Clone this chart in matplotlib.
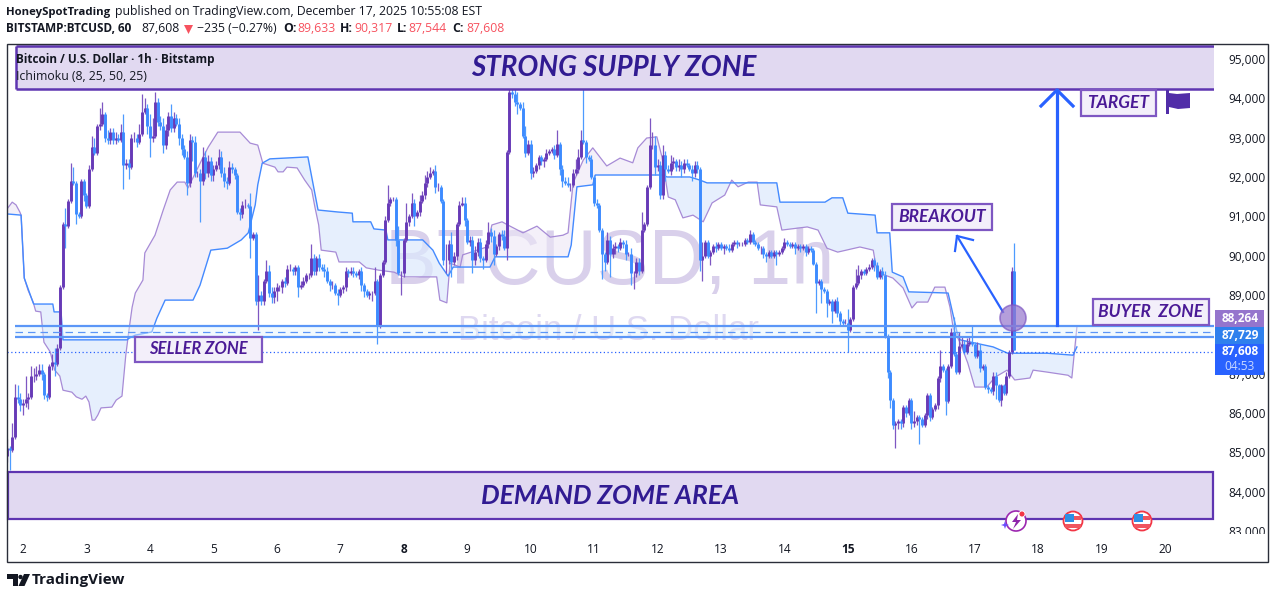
import numpy as np
import matplotlib
matplotlib.use("Agg")
import matplotlib.pyplot as plt
from matplotlib.patches import Circle, Polygon, Rectangle
from matplotlib.transforms import Affine2D

W, H = 1275, 599

# hourly candles, thousands of USD, first candle is Dec 1 18:00
closes = [
    85.10, 85.05, 85.40, 86.40, 86.35, 86.20,
    86.25, 86.35, 86.40, 86.95, 86.95, 87.00, 87.10, 87.00, 86.45, 86.40, 87.20, 87.30, 87.25, 87.65, 89.20, 90.80, 90.75, 91.40, 91.90, 91.85, 91.05, 91.00, 91.90, 91.55,
    91.25, 92.20, 92.75, 92.60, 93.30, 93.35, 93.60, 93.00, 92.95, 93.15, 92.95, 93.00, 92.95, 93.15, 92.30, 92.35, 92.25, 93.00, 93.00, 92.90, 93.10, 93.65, 93.75, 93.30,
    93.00, 93.05, 93.90, 93.40, 93.30, 92.80, 93.20, 93.55, 93.25, 93.50, 93.35, 93.00, 92.70, 92.50, 91.85, 92.95, 92.90, 92.10, 92.10, 91.90, 92.50, 92.10, 92.40, 92.05,
    92.20, 92.30, 92.50, 92.10, 91.90, 91.85, 92.25, 92.20, 92.05, 91.10, 91.05, 91.30, 91.30, 91.25, 90.45, 90.55, 88.85, 89.00, 88.85, 89.35, 89.60, 89.05, 88.95, 89.10,
    89.20, 89.20, 89.35, 89.30, 89.65, 89.65, 89.60, 89.70, 89.20, 89.25, 89.35, 89.50, 89.50, 89.95, 89.60, 89.95, 89.70, 89.65, 89.60, 89.35, 89.25, 89.25, 89.05, 89.00,
    89.15, 89.20, 89.60, 89.55, 89.60, 89.55, 89.50, 89.60, 89.25, 89.10, 89.00, 89.05, 89.05, 89.35, 88.20, 89.50, 89.85, 90.90, 91.35, 91.45, 91.45, 90.40, 89.55, 89.55,
    90.40, 90.85, 91.00, 91.35, 91.00, 91.10, 91.40, 91.55, 91.85, 92.00, 92.10, 92.15, 91.75, 91.75, 91.40, 89.90, 89.90, 90.30, 89.85, 90.00, 90.80, 91.30, 91.35, 90.90,
    90.35, 90.40, 89.90, 90.10, 90.35, 89.95, 89.90, 90.30, 90.60, 90.50, 90.05, 90.25, 90.55, 90.50, 90.20, 92.63, 94.15, 94.10, 93.90, 93.85, 93.75, 93.05, 92.60, 92.85,
    92.10, 92.15, 92.30, 92.50, 92.40, 92.45, 92.60, 92.65, 92.70, 92.55, 92.85, 92.20, 91.90, 91.85, 91.80, 91.80, 92.10, 92.20, 92.50, 92.95, 92.90, 92.50, 92.45, 92.00,
    91.35, 91.30, 90.65, 90.05, 89.85, 90.40, 90.05, 90.20, 90.25, 90.20, 90.35, 90.30, 90.05, 90.05, 89.55, 89.55, 89.85, 89.60, 90.65, 90.80, 91.75, 92.80, 92.80, 92.25,
    92.30, 91.55, 92.55, 92.20, 92.15, 92.35, 92.40, 92.25, 92.30, 92.20, 92.35, 92.30, 92.20, 92.10, 92.30, 92.20, 89.90, 90.00, 90.35, 90.00, 90.10, 90.25, 90.20, 90.30,
    90.20, 90.25, 90.20, 90.15, 90.30, 90.35, 90.30, 90.30, 90.30, 90.40, 90.35, 90.55, 90.35, 90.30, 90.20, 90.20, 90.05, 90.00, 90.10, 90.00, 90.10, 90.05, 90.10, 90.20,
    90.35, 90.30, 90.25, 90.30, 90.20, 90.25, 90.20, 90.25, 90.10, 90.20, 90.15, 89.80, 89.30, 89.35, 89.15, 89.10, 88.80, 88.85, 88.60, 88.85, 88.55, 88.35, 88.30, 88.30,
    88.10, 88.40, 89.20, 89.30, 89.50, 89.60, 89.55, 89.65, 89.70, 89.90, 89.75, 89.45, 89.60, 89.50, 87.95, 87.05, 86.33, 85.70, 85.75, 85.80, 85.75, 86.15, 86.00, 86.33,
    85.75, 85.80, 85.90, 85.85, 85.70, 85.95, 86.45, 85.90, 86.10, 86.20, 86.90, 87.20, 87.10, 86.30, 87.20, 88.05, 87.50, 87.05, 87.70, 87.75, 87.55, 87.75, 87.80, 87.75,
    87.45, 87.60, 87.15, 87.20, 86.65, 86.60, 86.55, 86.95, 86.70, 86.33, 86.70, 86.50, 86.95, 87.55, 89.60, 87.61,
]
up_wicks = [
    .25, .05, .35, .35, .30, .15,
    .10, .60, .10, .25, .20, .20, .15, .15, .05, .05, .05, .20, .35, .10, .05, .05, .40, .05, .45, .35, .05, .05, .05, .05,
    .05, .10, .30, .25, .05, .40, .30, .05, .20, .10, .10, .15, .10, .20, .45, .10, .10, .10, .15, .10, .25, .45, .25, .10,
    .30, .45, .25, .10, .15, .20, .15, .10, .30, .15, .10, .15, .10, .10, .15, .15, .10, .15, .05, .10, .25, .15, .15, .10,
    .10, .10, .20, .15, .15, .10, .15, .10, .05, .05, .10, .10, .15, .05, .35, .05, .05, .50, .10, .05, .30, .15, .15, .10,
    .10, .05, .05, .10, .10, .15, .05, .05, .05, .10, .10, .05, .05, .35, .10, .05, .10, .10, .15, .10, .05, .10, .05, .10,
    .05, .05, .10, .05, .10, .10, .05, .05, .10, .05, .05, .05, .05, .35, .05, .05, .05, .10, .45, .05, .05, .05, .35, .05,
    .05, .50, .05, .25, .10, .05, .15, .10, .20, .15, .15, .05, .15, .10, .05, .05, .40, .10, .30, .10, .05, .10, .15, .15,
    .05, .10, .10, .15, .10, .10, .05, .10, .25, .10, .15, .05, .05, .10, .15, .05, .35, .25, .15, .25, .05, .15, .25, .10,
    .10, .10, .05, .05, .05, .05, .10, .05, .05, .10, .35, .05, .10, .10, .15, .05, .10, .25, .20, .25, 1.50, .05, .05, .10,
    .05, .10, .05, .05, .05, .20, .10, .10, .10, .05, .10, .05, .10, .05, .15, .05, .10, .10, .45, .05, .05, .70, .35, .25,
    .15, .10, .25, .10, .10, .20, .10, .05, .15, .10, .10, .10, .05, .10, .10, .10, .05, .35, .05, .05, .05, .05, .10, .05,
    .05, .05, .05, .10, .05, .05, .05, .05, .05, .05, .05, .10, .05, .05, .05, .05, .05, .05, .05, .05, .05, .05, .05, .05,
    .10, .05, .05, .05, .05, .05, .05, .05, .05, .05, .05, .05, .05, .05, .05, .05, .05, .05, .05, .05, .10, .05, .05, .10,
    .35, .05, .05, .35, .25, .05, .05, .05, .10, .05, .05, .10, .05, .10, .10, .05, .05, .05, .05, .05, .05, .05, .05, .05,
    .05, .25, .05, .05, .05, .05, .05, .05, .05, .05, .05, .40, .05, .05, .05, .10, .40, .05, .35, .20, .10, .15, .15, .40,
    .05, .20, .15, .05, .05, .05, .05, .10, .10, .05, .05, .05, .10, .05, .10, .72,
]
down_wicks = [
    .15, .50, .05, .05, .10, .15,
    .25, .10, .25, .05, .15, .10, .05, .15, .10, .10, .05, .10, .30, .05, .05, .05, .55, .05, .05, .05, .25, .05, .05, .15,
    .05, .05, .05, .05, .05, .10, .05, .10, .10, .10, .10, .10, .05, .05, .60, .10, .30, .05, .10, .15, .05, .05, .05, .20,
    .50, .10, .05, .10, .10, .20, .10, .15, .10, .10, .05, .20, .15, .05, .30, .10, .50, .10, .10, 1.05, .10, .15, .10, .15,
    .15, .05, .10, .10, .15, .15, .05, .10, .10, .05, .15, .10, .10, .05, .50, .05, .10, .75, .10, .10, .05, .10, .15, .15,
    .25, .10, .15, .10, .05, .05, .10, .10, .25, .05, .05, .05, .10, .05, .10, .10, .10, .05, .15, .05, .15, .10, .05, .25,
    .05, .10, .10, .10, .05, .10, .05, .10, .15, .15, .05, .10, .20, .05, .45, .05, .05, .05, .05, .10, .05, .15, .05, .55,
    .10, .05, .10, .05, .25, .05, .10, .05, .10, .10, .05, .05, .15, .10, .05, .15, .35, .10, .40, .10, .10, .05, .05, .15,
    .05, .10, .35, .15, .10, .10, .25, .05, .10, .15, .30, .05, .10, .10, .05, .30, .05, .10, .10, .25, .05, .05, .10, .05,
    .15, .10, .05, .10, .10, .15, .05, .05, .05, .10, .05, .15, .15, .05, .05, .15, .05, .05, .10, .05, .05, .15, .05, .05,
    .10, .10, .05, .65, .25, .05, .60, .10, .15, .10, .05, .10, .15, .05, .30, .40, .10, .10, .05, .05, .05, .05, .10, .20,
    .10, .10, .10, .30, .05, .10, .15, .10, .10, .20, .10, .05, .05, .20, .10, .10, .30, .55, .05, .05, .25, .05, .10, .05,
    .05, .15, .05, .05, .05, .05, .10, .05, .05, .05, .05, .05, .05, .05, .05, .15, .10, .15, .05, .05, .05, .30, .05, .05,
    .05, .05, .05, .05, .15, .05, .10, .05, .10, .05, .05, .05, .75, .05, .35, .05, .35, .05, .30, .05, .10, .15, .10, .05,
    .55, .05, .05, .05, .05, .10, .05, .05, .05, .05, .15, .05, .05, .10, .05, .15, .20, .10, .60, .15, .15, .10, .10, .05,
    .15, .10, .10, .65, .05, .05, .10, .10, .05, .05, .10, .10, .05, .35, .05, .05, .05, .05, .05, .05, .05, .05, .05, .05,
    .05, .05, .10, .05, .05, .10, .05, .10, .35, .05, .15, .05, .05, .05, .05, .00,
]

# ichimoku spans: x is the day of December, y thousands of USD
span_b_x = [1.75, 1.97, 2.02, 2.16, 2.17, 2.47, 2.49, 2.60, 2.63, 3.64, 3.67, 3.77, 4.03, 4.11, 4.24, 4.68, 4.79, 4.96, 5.22, 5.44, 5.55, 5.66, 5.70, 5.77, 5.89, 6.49, 6.65, 6.96, 7.19, 7.20, 7.48, 7.53, 7.72, 7.75, 8.30, 8.46, 8.56, 8.70, 8.78, 9.36, 9.44, 10.59, 10.64, 10.73, 10.98, 11.02, 12.09, 12.15, 12.51, 12.67, 12.78, 13.88, 13.93, 14.64, 14.75, 14.92, 15.00, 15.43, 15.46, 15.66, 15.70, 15.87, 15.96, 16.58, 16.72, 16.77, 17.00, 17.29, 17.52, 18.14, 18.55, 18.61]
span_b_y = [91.06, 91.03, 89.43, 88.80, 88.77, 88.77, 88.57, 88.57, 87.86, 87.86, 87.90, 87.98, 88.06, 88.41, 88.87, 88.87, 89.25, 90.14, 90.19, 90.40, 90.58, 91.29, 91.80, 92.35, 92.46, 92.51, 91.16, 91.11, 91.08, 90.86, 90.86, 90.68, 90.65, 90.40, 90.40, 90.14, 89.81, 89.48, 89.71, 89.71, 89.97, 89.97, 90.27, 91.75, 91.80, 92.05, 92.05, 92.00, 92.00, 91.92, 91.85, 91.85, 91.36, 91.36, 91.47, 91.47, 91.08, 91.03, 90.58, 90.58, 89.58, 89.46, 89.08, 89.05, 88.06, 87.86, 87.78, 87.68, 87.52, 87.52, 87.47, 87.68]
span_a_x = [1.75, 1.83, 1.89, 1.95, 1.97, 2.02, 2.08, 2.16, 2.20, 2.28, 2.33, 2.43, 2.50, 2.58, 2.63, 2.77, 2.84, 2.93, 2.99, 3.04, 3.09, 3.13, 3.18, 3.23, 3.40, 3.47, 3.56, 3.62, 3.67, 3.72, 3.77, 3.89, 3.92, 4.08, 4.21, 4.32, 4.43, 4.55, 4.60, 4.84, 4.92, 5.07, 5.42, 5.58, 5.70, 5.78, 5.97, 6.02, 6.10, 6.16, 6.32, 6.44, 6.55, 6.60, 6.66, 6.70, 6.93, 6.98, 7.30, 7.41, 7.61, 7.85, 8.00, 8.30, 8.52, 8.57, 8.68, 8.73, 8.89, 8.93, 9.31, 9.39, 9.55, 9.64, 9.88, 10.10, 10.31, 10.51, 10.59, 10.67, 10.83, 10.98, 11.20, 11.41, 11.61, 11.69, 11.83, 11.99, 12.07, 12.17, 12.28, 12.40, 12.56, 12.72, 12.86, 13.06, 13.17, 13.27, 13.43, 13.57, 13.62, 13.88, 13.96, 14.36, 14.53, 14.67, 14.84, 15.19, 15.40, 15.46, 15.71, 15.87, 16.01, 16.09, 16.26, 16.37, 16.53, 16.61, 16.66, 16.77, 16.89, 17.00, 17.19, 17.32, 17.51, 17.63, 17.87, 17.92, 18.14, 18.47, 18.53, 18.61]
span_a_y = [91.19, 91.36, 91.29, 91.11, 91.03, 89.43, 89.12, 88.82, 88.59, 88.57, 87.80, 87.55, 87.09, 86.94, 86.58, 86.53, 86.41, 86.35, 86.43, 86.28, 85.82, 85.82, 85.95, 86.13, 86.15, 86.33, 86.43, 87.47, 88.11, 88.69, 89.05, 89.38, 90.07, 90.52, 91.16, 91.67, 91.87, 91.87, 91.72, 92.51, 92.76, 93.14, 93.14, 92.86, 92.81, 92.35, 92.25, 92.13, 92.13, 92.25, 92.23, 91.92, 91.67, 91.24, 90.78, 90.14, 90.09, 89.84, 89.84, 89.69, 89.63, 89.58, 89.46, 89.46, 89.46, 88.87, 88.80, 89.81, 89.71, 90.02, 90.22, 90.78, 90.86, 90.78, 90.58, 90.75, 90.47, 90.52, 90.58, 91.85, 92.43, 92.74, 92.28, 92.48, 92.36, 92.74, 92.99, 93.02, 92.51, 91.49, 91.42, 90.96, 91.03, 90.86, 91.34, 91.54, 91.92, 91.75, 91.87, 91.87, 91.29, 91.24, 90.65, 90.73, 90.65, 90.19, 90.09, 90.22, 90.14, 89.58, 89.43, 89.18, 88.67, 88.82, 88.82, 89.20, 89.20, 88.69, 88.16, 87.78, 87.27, 86.66, 86.66, 86.91, 87.09, 86.84, 86.89, 87.09, 87.04, 86.96, 86.89, 88.19]

price_ticks = [83000, 84000, 85000, 86000, 87000, 89000, 90000, 91000, 92000, 93000, 94000, 95000]
day_ticks = [2, 3, 4, 5, 6, 7, 8, 9, 10, 11, 12, 13, 14, 15, 16, 17, 18, 19, 20]
bold_days = [8, 15]

# horizontal levels
supply_zone = (94240, 95330)
demand_zone = (83300, 84500)
band_top, band_mid, band_bottom = 88210, 88060, 87930
last_line = 87550

PURPLE = "#673AB7"
PURPLE_WICK = "#7E57C2"
BLUE = "#3D8BFF"
BLUE_WICK = "#4D9BFF"
ARROW = "#2962FF"
ZONE_EDGE = "#5E35B1"
ZONE_FILL = "#E1D9F1"
LABEL_INK = "#4A1A96"
INK = "#131722"

plt.rcParams["font.family"] = ["Open Sans", "DejaVu Sans"]
ZONE_FONT = ["Lato", "DejaVu Sans"]

fig = plt.figure(figsize=(W / 100, H / 100), dpi=100)
# chart pane runs 7..1214 px across and 44..533 px down
ax = fig.add_axes([7 / W, 1 - 533 / H, (1214 - 7) / W, (533 - 44) / H])
ax.set_xlim(2 - 16 / 63.45, 2 + (1214 - 23) / 63.45)
ax.set_ylim(82950, 95380)
for s in ax.spines.values():
    s.set_visible(False)

px = Affine2D().scale(1, -1).translate(0, H)


def pixel_rect(x0, y0, x1, y1, **kw):
    fig.add_artist(Rectangle((x0, y0), x1 - x0, y1 - y0, transform=px, **kw))


def pixel_text(x, y, s, **kw):
    kw.setdefault("color", INK)
    kw.setdefault("fontsize", 8.8)
    kw.setdefault("va", "center")
    fig.text(x / W, 1 - y / H, s, **kw)


def boxed_label(x0, y0, x1, y1, s, size):
    pixel_rect(x0, y0, x1, y1, facecolor="#F3EFFA", edgecolor="#7E57C2", lw=1.6, zorder=6)
    pixel_text((x0 + x1) / 2, (y0 + y1) / 2, s, color=LABEL_INK, fontsize=size, ha="center",
               family=ZONE_FONT, style="italic", weight="bold", zorder=7)


# watermark sits behind everything
ax.text(610, 263, "BTCUSD, 1h", transform=px, fontsize=56, color="#D9D0EB", family="Liberation Sans",
        ha="center", va="center", zorder=1)
ax.text(609, 331, "Bitcoin / U.S. Dollar", transform=px, fontsize=25, color="#DFD9F1",
        family="Liberation Sans", ha="center", va="center", zorder=1)

# cloud
grid = np.linspace(1.75, 18.61, 2000)
a_on_grid = np.interp(grid, span_a_x, span_a_y) * 1000
b_on_grid = np.interp(grid, span_b_x, span_b_y) * 1000
ax.fill_between(grid, a_on_grid, b_on_grid, where=a_on_grid >= b_on_grid, color="#EDE7F6", alpha=0.6, lw=0, zorder=2)
ax.fill_between(grid, a_on_grid, b_on_grid, where=a_on_grid < b_on_grid, color="#DCE9FD", alpha=0.7, lw=0, zorder=2)
ax.plot(span_a_x, np.array(span_a_y) * 1000, color="#A78BD6", lw=0.9, zorder=3)
ax.plot(span_b_x, np.array(span_b_y) * 1000, color="#448AFF", lw=1.0, zorder=3)

# candles
c = np.array(closes) * 1000
o = np.r_[84900, c[:-1]]
x = 1.75 + np.arange(len(c)) / 24
top = np.maximum(o, c)
bottom = np.minimum(o, c)
high = top + np.array(up_wicks) * 1000
low = bottom - np.array(down_wicks) * 1000
rising = c >= o
ax.vlines(x[rising], low[rising], high[rising], color=PURPLE_WICK, lw=0.9, zorder=4)
ax.vlines(x[~rising], low[~rising], high[~rising], color=BLUE_WICK, lw=0.9, zorder=4)
ax.vlines(x[rising], bottom[rising], top[rising], color=PURPLE, lw=2.1, zorder=4.5)
ax.vlines(x[~rising], bottom[~rising], top[~rising], color=BLUE, lw=2.1, zorder=4.5)

# buyer band and last price line
band_left = 2 + (15 - 23) / 63.45
band_right = ax.get_xlim()[1]
ax.fill_between([band_left, band_right], band_bottom, band_top, color="#E3F5FD", alpha=0.45, lw=0, zorder=3.5)
ax.hlines([band_top, band_bottom], band_left, band_right, color="#5B96F7", lw=1.6, zorder=5)
ax.hlines(band_mid, band_left, band_right, color="#5B96F7", lw=0.9, linestyles=(0, (6, 4)), zorder=5)
ax.axhline(last_line, color="#2962FF", lw=0.9, linestyle=(0, (1, 2)), zorder=5)

# zones
ax.add_patch(Rectangle((1.89, supply_zone[0]), band_right - 1.89, supply_zone[1] - supply_zone[0],
                       facecolor=ZONE_FILL, edgecolor="none", zorder=5.5))
ax.hlines(supply_zone, 1.89, band_right, color=ZONE_EDGE, lw=1.8, zorder=5.6)
ax.vlines(1.89, *supply_zone, color=ZONE_EDGE, lw=1.8, zorder=5.6)
ax.add_patch(Rectangle((1.76, demand_zone[0]), 20.76 - 1.76, demand_zone[1] - demand_zone[0],
                       facecolor=ZONE_FILL, edgecolor=ZONE_EDGE, lw=1.6, zorder=5.5, clip_on=False))

ax.yaxis.tick_right()
ax.set_yticks(price_ticks)
ax.set_yticklabels([f"{v:,}" for v in price_ticks])
ax.set_xticks(day_ticks)
ax.set_xticklabels([str(d) for d in day_ticks])
ax.tick_params(axis="y", length=0, pad=10, labelsize=8.6, labelcolor=INK)
ax.tick_params(axis="x", length=0, pad=7, labelsize=8.6, labelcolor=INK)
for lab, d in zip(ax.get_xticklabels(), day_ticks):
    if d in bold_days:
        lab.set_fontweight("bold")

# frame, and the strip that cuts the lowest price label
pixel_rect(6.5, 44, 1268, 562, facecolor="none", edgecolor="#2A2E39", lw=1.0, zorder=3)
pixel_rect(1216, 533.5, 1266, 541, facecolor="white", edgecolor="none", zorder=2)

# header
pixel_text(6, 12, "HoneySpotTrading", weight="bold", fontsize=8.2)
pixel_text(115, 12, "published on TradingView.com, December 17, 2025 10:55:08 EST")
pixel_text(6, 29, "BITSTAMP:BTCUSD, 60", weight="bold", fontsize=8.5)
pixel_text(141, 29, "87,608")
fig.add_artist(Polygon([(184, 25), (193, 25), (188.5, 34)], transform=px, facecolor="#F7525F", edgecolor="none"))
pixel_text(197, 29, "\u2212235 (\u22120.27%)")
ohlc_parts = [(283, "O:", 297, "89,633"), (340, "H:", 354, "90,317"), (397, "L:", 408, "87,544"), (452, "C:", 466, "87,608")]
for kx, key, vx, val in ohlc_parts:
    pixel_text(kx, 29, key, weight="bold")
    pixel_text(vx, 29, val, color="#F7525F")

# legend texts over the supply zone
pixel_text(16, 60, "Bitcoin / U.S. Dollar \u00b7 1h \u00b7 Bitstamp", weight="bold", fontsize=8.5, zorder=7)
pixel_text(16, 77, "Ichimoku (8, 25, 50, 25)", zorder=7)

# zone titles
pixel_text(614, 68, "STRONG SUPPLY ZONE", color="#311B92", fontsize=20, ha="center", family=ZONE_FONT,
           style="italic", weight="bold", zorder=7)
pixel_text(610, 496, "DEMAND ZOME AREA", color="#311B92", fontsize=19, ha="center", family=ZONE_FONT,
           style="italic", weight="bold", zorder=7)

boxed_label(1081, 90, 1156, 116, "TARGET", 12.5)
boxed_label(892, 204, 992, 230, "BREAKOUT", 12.5)
boxed_label(1093, 299, 1209, 325, "BUYER  ZONE", 12.5)
boxed_label(135, 337, 262, 362, "SELLER ZONE", 12)

# target arrow
for xs, ys in [((1057, 1057), (325, 90)), ((1041, 1057, 1073), (106, 90, 106))]:
    fig.add_artist(plt.Line2D(xs, ys, transform=px, color=ARROW, lw=2.3, zorder=6))
# breakout arrow and circle
for xs, ys in [((1003, 957), (312, 236)), ((955, 957, 973), (251, 236, 240))]:
    fig.add_artist(plt.Line2D(xs, ys, transform=px, color=ARROW, lw=1.6, zorder=6))
fig.add_artist(Circle((1013, 318), 13, transform=px, facecolor="#9575CD", edgecolor="#7E57C2", alpha=0.7, lw=1.2, zorder=6))

# flag
fig.add_artist(Polygon([(1166, 90), (1169, 90), (1169, 93), (1177, 94), (1190, 93), (1190, 108), (1178, 109),
                        (1169, 107), (1169, 114), (1166, 114)],
                       transform=px, facecolor="#512DA8", edgecolor="none", zorder=6))

# event icons on the pane bottom
fig.add_artist(Circle((1016, 521), 10, transform=px, facecolor="white", edgecolor="#9C27B0", lw=1.2, zorder=7))
fig.add_artist(Polygon([(1018, 514), (1012, 522), (1016, 522), (1013, 529), (1021, 520), (1017, 520)], transform=px,
                       facecolor="#8E24AA", edgecolor="none", zorder=8))
fig.add_artist(Circle((1022, 514), 3, transform=px, facecolor="#F23645", edgecolor="white", lw=0.6, zorder=8))
fig.add_artist(Polygon([(1005, 521), (1004, 524), (1001, 525), (1004, 526), (1005, 529), (1006, 526), (1009, 525), (1006, 524)],
                       transform=px, facecolor="#6A4DFF", edgecolor="none", zorder=8))
for ex in (1073, 1142):
    fig.add_artist(Circle((ex, 521), 9.5, transform=px, facecolor="white", edgecolor="#F23645", lw=1.3, zorder=7))
    pixel_rect(ex - 8, 516, ex + 8, 520, facecolor="#F0555F", edgecolor="none", zorder=8)
    pixel_rect(ex - 8, 524, ex + 8, 528, facecolor="#F0555F", edgecolor="none", zorder=8)
    pixel_rect(ex - 8, 514, ex + 0.5, 522, facecolor="#2F8FE5", edgecolor="none", zorder=8.5)

# price badges on the scale
for y0, y1, col in [(310, 327, "#9575CD"), (327, 344, "#2F80ED"), (344, 375, "#2962FF")]:
    pixel_rect(1215, y0, 1264, y1, facecolor=col, edgecolor="none", zorder=7)
for y, s, col in [(318.5, "88,264", "white"), (335.5, "87,729", "white"), (351.5, "87,608", "white"), (366, "04:53", "#C9D8FF")]:
    pixel_text(1240, y, s, color=col, fontsize=8.6, ha="center", weight="bold" if s != "04:53" else "normal", zorder=8)

# footer logo
fig.add_artist(Polygon([(7, 574), (18, 574), (18, 586), (13, 586), (13, 579), (7, 579)], transform=px,
                       facecolor="#131722", edgecolor="none"))
fig.add_artist(Circle((20.5, 577), 2.2, transform=px, facecolor="#131722", edgecolor="none"))
fig.add_artist(Polygon([(24, 574), (30, 574), (24.5, 586), (18.5, 586)], transform=px, facecolor="#131722", edgecolor="none"))
pixel_text(32, 580, "TradingView", fontsize=11, weight="bold", color="#131722")

fig.savefig("out.png", dpi=100, facecolor="white")
